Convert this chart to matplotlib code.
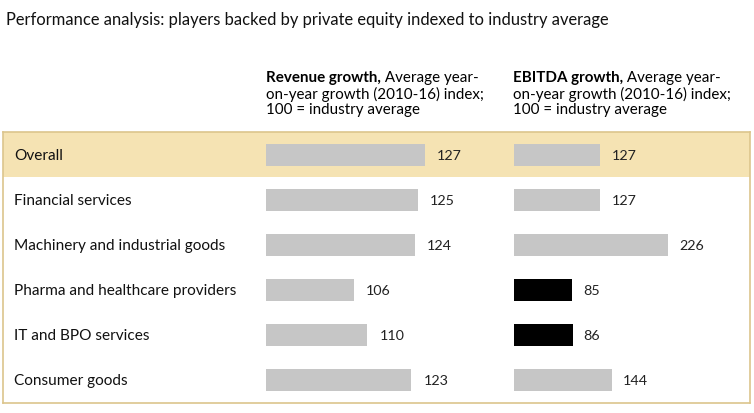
import matplotlib.pyplot as plt

categories = ["Overall", "Financial services", "Machinery and industrial goods",
              "Pharma and healthcare providers", "IT and BPO services", "Consumer goods"]
revenue = [127, 125, 124, 106, 110, 123]
ebitda = [127, 127, 226, 85, 86, 144]

W, H = 754, 414
GREY = "#c6c6c6"
HILITE = "#f5e3b3"
BORDER = "#dcc58c"
FONT = "Lato"

plt.rcParams['font.family'] = [FONT, 'DejaVu Sans']

fig = plt.figure(figsize=(W / 100, H / 100), dpi=100)


def rect(x0, y0, x1, y1):
    # pixel box (top-left origin) -> figure fraction
    return [x0 / W, 1 - y1 / H, (x1 - x0) / W, (y1 - y0) / H]


n = len(categories)
box_top, box_bot = 133, 404

# background box with highlighted first row
bg = fig.add_axes(rect(3, box_top, 750, box_bot))
bg.set_xlim(0, 1)
bg.set_ylim(n - 0.5, -0.5)
bg.axhspan(-0.5, 0.5, color=HILITE, lw=0)
for s in bg.spines.values():
    s.set_color(BORDER)
    s.set_linewidth(1.2)
bg.set_xticks([])
bg.set_yticks([])
for i, c in enumerate(categories):
    bg.text(11 / 747, i, c, va="center", ha="left", fontsize=11.1, color="#111111")

# revenue bars (axis starts at 80)
ax1 = fig.add_axes(rect(266, box_top, 500, box_bot))
ax1.set_xlim(80, 80 + 234 / 3.38)
ax1.set_ylim(n - 0.5, -0.5)
ax1.barh(range(n), revenue, height=0.49, color=GREY)
for i, v in enumerate(revenue):
    ax1.text(v + 12 / 3.38, i, str(v), va="center", ha="left", fontsize=10.3, color="#222222")
ax1.axis("off")

# EBITDA bars
ax2 = fig.add_axes(rect(514, box_top, 740, box_bot))
ax2.set_xlim(0, 226 / 0.681)
ax2.set_ylim(n - 0.5, -0.5)
ax2.barh(range(n), ebitda, height=0.49,
         color=["black" if v < 100 else GREY for v in ebitda])
for i, v in enumerate(ebitda):
    ax2.text(v + 11 / 0.681, i, str(v), va="center", ha="left", fontsize=10.3, color="#222222")
ax2.axis("off")

fig.text(6 / W, 1 - 20 / H, "Performance analysis: players backed by private equity indexed to industry average",
         fontsize=11.9, va="center", ha="left", color="#111111")

headers = [("Revenue growth,", " Average year-", 266), ("EBITDA growth,", " Average year-", 513)]
for bold, rest, x in headers:
    t = fig.text(x / W, 1 - 78 / H, bold, fontsize=10.9, fontweight="bold", va="center", ha="left")
    fig.canvas.draw()
    bb = t.get_window_extent()
    fig.text(bb.x1 / W, 1 - 78 / H, rest, fontsize=10.9, va="center", ha="left")
    fig.text(x / W, 1 - 94 / H, "on-year growth (2010-16) index;", fontsize=10.9, va="center", ha="left")
    fig.text(x / W, 1 - 110 / H, "100 = industry average", fontsize=10.9, va="center", ha="left")

fig.savefig("out.png", dpi=100)
